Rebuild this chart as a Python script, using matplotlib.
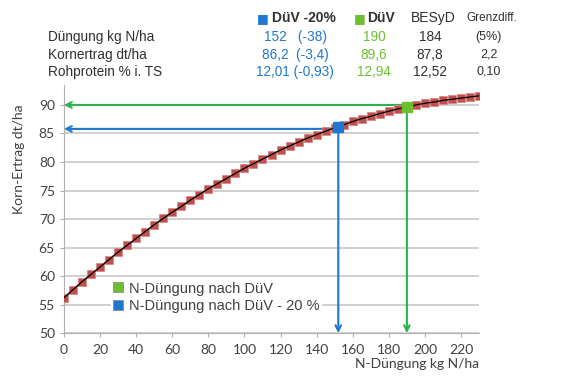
import matplotlib
matplotlib.use('Agg')
import matplotlib.pyplot as plt

# N-Düngung (kg N/ha) und Kornertrag (dt/ha)
n_rate = [0, 5, 10, 15, 20, 25, 30, 35, 40, 45, 50, 55, 60, 65, 70, 75, 80, 85,
          90, 95, 100, 105, 110, 115, 120, 125, 130, 135, 140, 145, 150, 155,
          160, 165, 170, 175, 180, 185, 190, 195, 200, 205, 210, 215, 220, 225, 230]
yield_dt = [56.2, 57.6, 59.0, 60.3, 61.6, 62.9, 64.2, 65.4, 66.6, 67.8, 69.0,
            70.1, 71.2, 72.2, 73.3, 74.3, 75.3, 76.2, 77.1, 78.0, 78.9, 79.7,
            80.5, 81.3, 82.1, 82.8, 83.5, 84.2, 84.8, 85.4, 86.0, 86.5, 87.1,
            87.6, 88.0, 88.5, 88.9, 89.3, 89.6, 90.0, 90.3, 90.5, 90.8, 91.0,
            91.2, 91.4, 91.6]

duev_n, duev_y = 190, 89.6
duev20_n, duev20_y = 152, 86.2
arrow_y_duev = 90.0
arrow_y_duev20 = 85.8

row_labels = ['Düngung kg N/ha', 'Kornertrag dt/ha', 'Rohprotein % i. TS']
col_duev20 = ['152   (-38)', '86,2  (-3,4)', '12,01 (-0,93)']
col_duev = ['190', '89,6', '12,94']
col_besyd = ['184', '87,8', '12,52']
col_grenz = ['(5%)', '2,2', '0,10']

BLUE = '#1f77cf'
GREEN_ARROW = '#2bb24c'
GREEN_MARK = '#6cc02f'
RED = '#c0504d'

fig = plt.figure(figsize=(5.71, 3.76), dpi=100)
ax = fig.add_axes([0.112, 0.114, 0.727, 0.66])

ax.plot(n_rate, yield_dt, color='black', lw=0.9, zorder=3,
        marker='s', markersize=5.4, markerfacecolor=RED, markeredgecolor='#d88a88',
        markeredgewidth=0.6)
ax.plot(n_rate, yield_dt, color='black', lw=0.9, zorder=4)

# Pfeile
aprops = dict(arrowstyle='->', lw=1.5, shrinkA=0, shrinkB=0)
ax.annotate('', xy=(0, arrow_y_duev), xytext=(duev_n, arrow_y_duev),
            arrowprops=dict(color=GREEN_ARROW, **aprops), zorder=2)
ax.annotate('', xy=(duev_n, 50), xytext=(duev_n, arrow_y_duev),
            arrowprops=dict(color=GREEN_ARROW, **aprops), zorder=2)
ax.annotate('', xy=(0, arrow_y_duev20), xytext=(duev20_n, arrow_y_duev20),
            arrowprops=dict(color=BLUE, **aprops), zorder=2)
ax.annotate('', xy=(duev20_n, 50), xytext=(duev20_n, arrow_y_duev20),
            arrowprops=dict(color=BLUE, **aprops), zorder=2)

h1, = ax.plot([duev_n], [duev_y], 's', color=GREEN_MARK, markersize=7, zorder=5,
              label='N-Düngung nach DüV')
h2, = ax.plot([duev20_n], [duev20_y], 's', color=BLUE, markersize=7, zorder=5,
              label='N-Düngung nach DüV - 20 %')

ax.set_xlim(0, 230)
ax.set_ylim(50, 93.5)
ax.set_xticks(range(0, 221, 20))
ax.set_yticks(range(50, 91, 5))
ax.grid(axis='y', color='#c8c8c8', lw=1.2)
ax.set_axisbelow(True)
for s in ['top', 'right']:
    ax.spines[s].set_visible(False)
for s in ['left', 'bottom']:
    ax.spines[s].set_color('#b0b0b0')
ax.tick_params(axis='both', labelsize=10, colors='#404040', length=3, color='#b0b0b0')
ax.tick_params(axis='x', pad=5)
for lab in ax.get_xticklabels() + ax.get_yticklabels():
    lab.set_family('Lato')

ax.set_xlabel('N-Düngung kg N/ha', fontsize=10, color='#404040', family='Lato')
ax.xaxis.set_label_coords(1.0, -0.1)
ax.xaxis.label.set_ha('right')
ax.set_ylabel('Korn-Ertrag dt/ha', fontsize=10, color='#404040', family='Lato')
ax.yaxis.set_label_coords(-0.095, 0.70)

leg = ax.legend(handles=[h1, h2], loc='lower left', bbox_to_anchor=(0.096, 0.045),
                frameon=True, handlelength=0.7, handletextpad=0.4,
                labelspacing=0.25, borderpad=0.1, edgecolor='white', framealpha=1,
                fancybox=False, prop={'family': 'Liberation Sans', 'size': 10.5})
for t in leg.get_texts():
    t.set_color('#404040')
for h in leg.legend_handles:
    h.set_markeredgecolor('#808080')
    h.set_markeredgewidth(0.5)

# Tabelle oben
tf = 'Liberation Sans'
hy = 0.952
fig.text(0.449, hy, '■', color=BLUE, fontsize=9, family='DejaVu Sans', va='center')
fig.text(0.476, hy, 'DüV -20%', color='#303030', fontsize=10, family=tf,
         weight='bold', va='center')
fig.text(0.620, hy, '■', color=GREEN_MARK, fontsize=9, family='DejaVu Sans', va='center')
fig.text(0.643, hy, 'DüV', color='#303030', fontsize=10, family=tf,
         weight='bold', va='center')
fig.text(0.758, hy, 'BESyD', color='#303030', fontsize=10, family=tf,
         ha='center', va='center')
fig.text(0.862, hy, 'Grenzdiff.', color='#303030', fontsize=8.5, family=tf,
         ha='center', va='center')
row_y = [0.902, 0.854, 0.809]
for i, y in enumerate(row_y):
    fig.text(0.084, y, row_labels[i], color='#303030', fontsize=9.8, family=tf, va='center')
    fig.text(0.517, y, col_duev20[i], color=BLUE, fontsize=9.8, family=tf,
             ha='center', va='center')
    fig.text(0.655, y, col_duev[i], color=GREEN_MARK, fontsize=9.8, family=tf,
             ha='center', va='center')
    fig.text(0.753, y, col_besyd[i], color='#303030', fontsize=9.8, family=tf,
             ha='center', va='center')
    fig.text(0.856, y, col_grenz[i], color='#303030', fontsize=9, family=tf,
             ha='center', va='center')

fig.savefig('out.png', dpi=100)
